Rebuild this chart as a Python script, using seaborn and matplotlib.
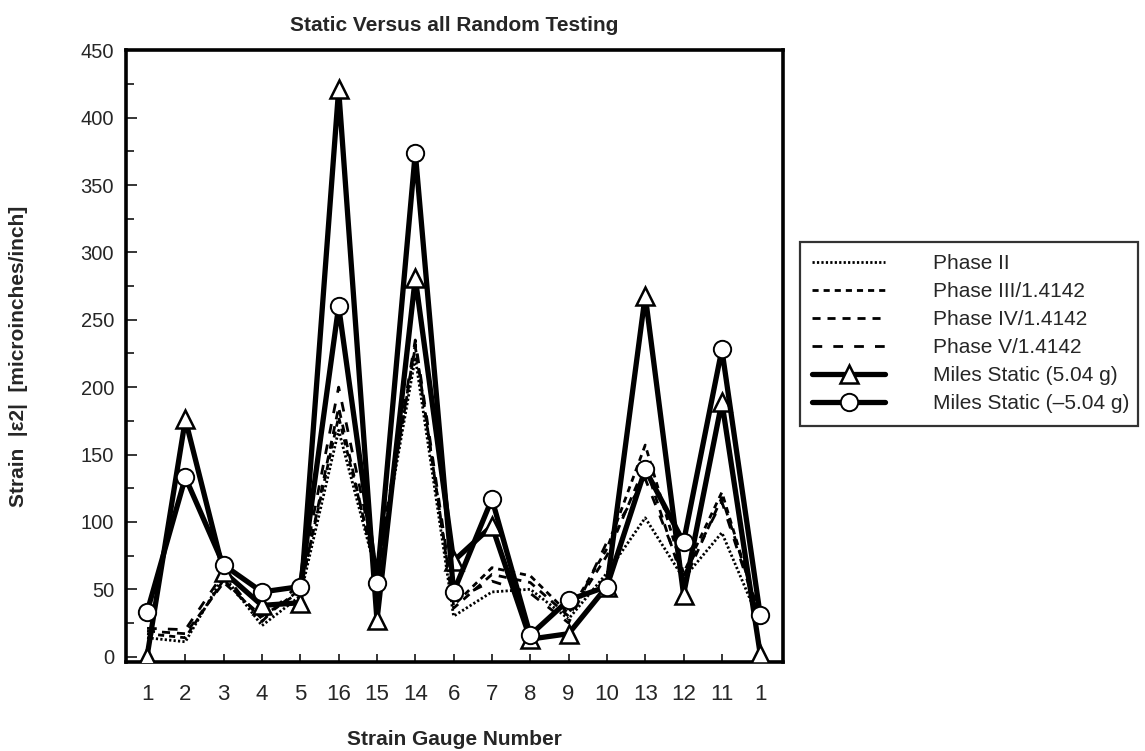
import matplotlib
matplotlib.use("Agg")
import matplotlib.pyplot as plt
import seaborn as sns
import numpy as np
import pandas as pd

# ---------------- data ----------------
gauges = ["1", "2", "3", "4", "5", "16", "15", "14", "6", "7", "8", "9", "10", "13", "12", "11", "1"]

phase_ii = [14, 11, 60, 23, 45, 168, 60, 222, 30, 48, 50, 28, 62, 103, 58, 92, 25]
phase_iii = [17, 14, 57, 28, 50, 178, 62, 230, 38, 66, 60, 32, 80, 157, 62, 122, 28]
phase_iv = [19, 17, 55, 30, 48, 185, 58, 232, 36, 61, 55, 30, 75, 142, 55, 118, 30]
phase_v = [21, 20, 62, 26, 55, 200, 65, 235, 42, 56, 47, 25, 85, 132, 60, 115, 27]
miles_pos = [0, 176, 63, 38, 40, 421, 27, 281, 71, 97, 13, 17, 52, 268, 46, 189, 2]
miles_neg = [33, 133, 68, 48, 52, 260, 55, 374, 48, 117, 16, 42, 52, 139, 85, 228, 31]

series_names = ["Phase II", "Phase III/1.4142", "Phase IV/1.4142", "Phase V/1.4142",
                "Miles Static (5.04 g)", "Miles Static (\u20135.04 g)"]

y_ticks = [0, 50, 100, 150, 200, 250, 300, 350, 400, 450]

# ---------------- style ----------------
sns.set_theme(style="white")
NARROW = ["Liberation Sans Narrow", "Liberation Sans", "DejaVu Sans"]
REG = ["Liberation Sans", "DejaVu Sans"]
plt.rcParams["font.family"] = NARROW

fig = plt.figure(figsize=(11.45, 7.51), dpi=100)
ax = fig.add_axes([0.110, 0.1185, 0.574, 0.8145])

x = np.arange(len(gauges))

phase_styles = [
    dict(linestyle=(0, (0.8, 0.8)), lw=2.0),
    dict(linestyle=(0, (2.2, 1.8)), lw=2.0),
    dict(linestyle=(0, (2.9, 2.5)), lw=2.0),
    dict(linestyle=(0, (3.5, 4.0)), lw=2.0),
]
phase_data = [phase_ii, phase_iii, phase_iv, phase_v]

for name, vals, st in zip(series_names[:4], phase_data, phase_styles):
    sns.lineplot(x=x, y=vals, ax=ax, color="black", label=name, sort=False,
                 linestyle=st["linestyle"], lw=st["lw"])

sns.lineplot(x=x, y=miles_pos, ax=ax, color="black", lw=3.8, sort=False,
             marker="^", markersize=13.5, markerfacecolor="white",
             markeredgecolor="black", markeredgewidth=1.8,
             label=series_names[4], zorder=5)
sns.lineplot(x=x, y=miles_neg, ax=ax, color="black", lw=3.8, sort=False,
             marker="o", markersize=12.5, markerfacecolor="white",
             markeredgecolor="black", markeredgewidth=1.4,
             label=series_names[5], zorder=6)

# ---------------- axes ----------------
ax.set_xlim(-0.55, 16.6)
ax.set_ylim(-4, 450)
ax.set_xticks(x)
ax.set_xticklabels(gauges, fontsize=16, family=NARROW)
ax.set_yticks(y_ticks)
ax.set_yticklabels([str(v) for v in y_ticks], fontsize=14.5, family=REG)
ax.set_yticks(np.arange(25, 450, 50), minor=True)
ax.tick_params(axis="y", which="major", direction="in", length=8, width=1.3,
               left=True, pad=8.5)
ax.tick_params(axis="y", which="minor", direction="in", length=6, width=1.3, left=True)
ax.tick_params(axis="x", which="major", direction="in", length=6, width=1.3,
               bottom=True, pad=16)
for s in ax.spines.values():
    s.set_visible(True)
    s.set_color("black")
    s.set_linewidth(2.6)
ax.grid(False)

ax.set_xlabel("Strain Gauge Number", fontsize=15, fontweight="bold",
              family=NARROW, labelpad=18)
ax.set_ylabel("Strain  |\u03b52|  [microinches/inch]", fontsize=15,
              fontweight="bold", family=NARROW, labelpad=38)
ax.set_title("Static Versus all Random Testing", fontsize=15,
             fontweight="bold", family=NARROW, pad=14)

leg = ax.legend(loc="upper left", bbox_to_anchor=(0.6985, 0.433, 0.295, 0.245),
                bbox_transform=fig.transFigure, mode="expand",
                frameon=True, fancybox=False, edgecolor="black",
                handlelength=3.5, handletextpad=2.3,
                labelspacing=0.43, borderpad=0.6, borderaxespad=0,
                numpoints=1, prop={"family": NARROW, "size": 15})
leg.get_frame().set_linewidth(1.6)

fig.savefig("out.png", dpi=100)
